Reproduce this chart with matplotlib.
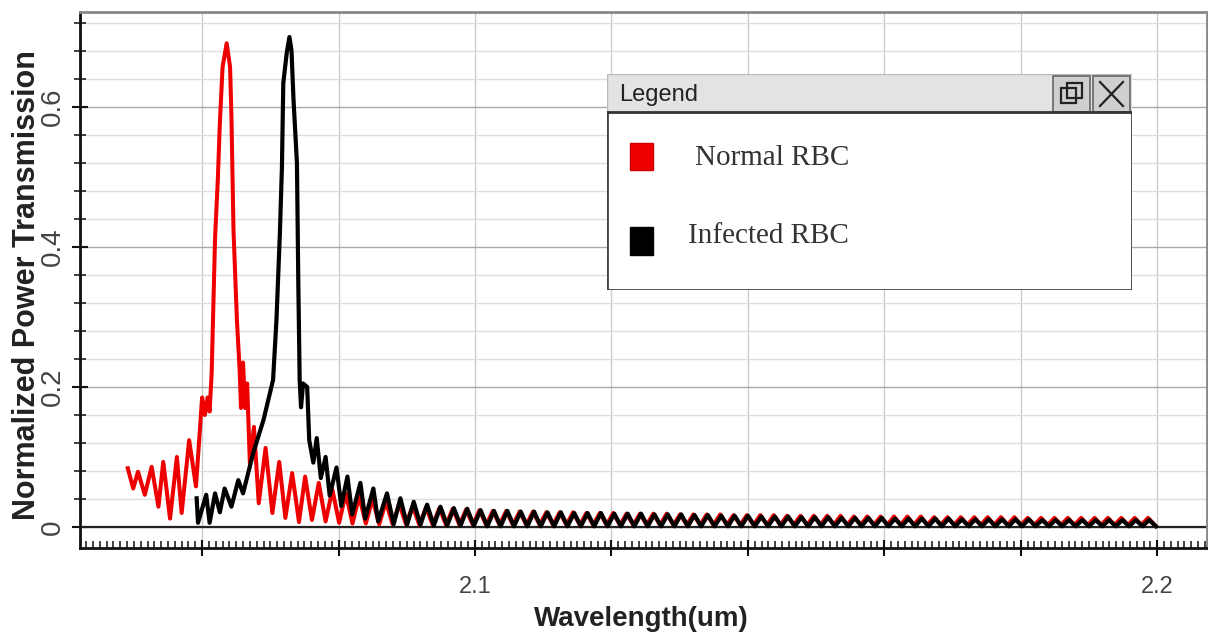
import numpy as np
import matplotlib
matplotlib.use('Agg')
import matplotlib.pyplot as plt
from matplotlib.ticker import MultipleLocator, FuncFormatter
from matplotlib.patches import Rectangle

plt.rcParams['font.family'] = ['Liberation Sans', 'DejaVu Sans']

# Normal RBC: resonance region (wavelength um, transmission)
red_x = [2.0491, 2.0499, 2.0506, 2.0516, 2.0526, 2.0536, 2.0543, 2.0553, 2.0563, 2.0570,
         2.0581, 2.0591, 2.0600, 2.0604, 2.0608, 2.0611, 2.0614, 2.0616, 2.0619, 2.0623,
         2.0626, 2.0630, 2.0636, 2.0641, 2.0643, 2.0646, 2.0651, 2.0655, 2.0657, 2.0660,
         2.0663, 2.0666, 2.0670, 2.0676, 2.0683, 2.0693, 2.0703, 2.0713, 2.0722, 2.0732,
         2.0742, 2.0751, 2.0761, 2.0771, 2.0781]
red_y = [0.084, 0.055, 0.079, 0.046, 0.086, 0.029, 0.093, 0.012, 0.100, 0.020,
         0.124, 0.058, 0.185, 0.160, 0.185, 0.165, 0.220, 0.296, 0.414, 0.496,
         0.577, 0.657, 0.691, 0.657, 0.586, 0.424, 0.296, 0.224, 0.170, 0.235,
         0.170, 0.205, 0.091, 0.143, 0.034, 0.113, 0.020, 0.093, 0.013, 0.077,
         0.007, 0.072, 0.010, 0.063, 0.008]

# Normal RBC: fringe tail, alternating peak / trough samples
red_tail_start = 2.0791
red_tail_pk = [0.053, 0.048, 0.044, 0.040, 0.036, 0.033, 0.030, 0.028, 0.027, 0.026,
               0.025, 0.024, 0.023, 0.023, 0.022, 0.022, 0.021, 0.021, 0.021, 0.020,
               0.020, 0.020, 0.019, 0.019, 0.019, 0.019, 0.018, 0.018, 0.018, 0.018,
               0.017, 0.017, 0.017, 0.017, 0.016, 0.016, 0.016, 0.016, 0.016, 0.015,
               0.015, 0.015, 0.015, 0.015, 0.015, 0.014, 0.014, 0.014, 0.014, 0.014,
               0.014, 0.014, 0.013, 0.013, 0.013, 0.013, 0.013, 0.013, 0.013, 0.013,
               0.013, 0.013]
red_tail_tr = [0.006, 0.005, 0.005, 0.004, 0.004, 0.004, 0.003, 0.003, 0.003, 0.003,
               0.003, 0.003, 0.003, 0.003, 0.003, 0.003, 0.003, 0.003, 0.003, 0.003,
               0.003, 0.003, 0.003, 0.003, 0.003, 0.003, 0.003, 0.003, 0.003, 0.003,
               0.003, 0.003, 0.003, 0.003, 0.003, 0.003, 0.003, 0.003, 0.003, 0.003,
               0.003, 0.003, 0.003, 0.003, 0.003, 0.003, 0.003, 0.003, 0.003, 0.003,
               0.003, 0.003, 0.003, 0.003, 0.003, 0.003, 0.003, 0.003, 0.003, 0.003,
               0.003, 0.003]

# Infected RBC: resonance region
black_x = [2.0592, 2.0594, 2.0606, 2.0611, 2.0619, 2.0626, 2.0633, 2.0643, 2.0653, 2.0660,
           2.0668, 2.0675, 2.0690, 2.0704, 2.0709, 2.0714, 2.0717, 2.0719, 2.0724, 2.0728,
           2.0731, 2.0734, 2.0739, 2.0741, 2.0743, 2.0745, 2.0748, 2.0754, 2.0757, 2.0763,
           2.0768, 2.0774, 2.0781, 2.0787, 2.0797, 2.0804, 2.0813, 2.0820, 2.0832, 2.0839,
           2.0851, 2.0858]
black_y = [0.041, 0.006, 0.046, 0.006, 0.048, 0.021, 0.055, 0.029, 0.067, 0.048,
           0.079, 0.106, 0.153, 0.210, 0.296, 0.420, 0.514, 0.634, 0.677, 0.700,
           0.681, 0.610, 0.520, 0.349, 0.210, 0.171, 0.205, 0.200, 0.124, 0.092,
           0.127, 0.070, 0.100, 0.045, 0.085, 0.030, 0.072, 0.018, 0.063, 0.012,
           0.055, 0.008]

# Infected RBC: fringe tail
black_tail_start = 2.0871
black_tail_pk = [0.048, 0.041, 0.036, 0.032, 0.029, 0.027, 0.026, 0.024, 0.023, 0.023,
                 0.022, 0.022, 0.021, 0.021, 0.020, 0.020, 0.020, 0.019, 0.019, 0.019,
                 0.018, 0.018, 0.018, 0.017, 0.017, 0.016, 0.016, 0.016, 0.015, 0.015,
                 0.015, 0.014, 0.014, 0.014, 0.013, 0.013, 0.013, 0.013, 0.012, 0.012,
                 0.012, 0.012, 0.012, 0.011, 0.011, 0.011, 0.011, 0.011, 0.011, 0.010,
                 0.010, 0.010, 0.010, 0.010, 0.010, 0.010, 0.010, 0.010]
black_tail_tr = [0.004, 0.003, 0.003, 0.002, 0.002, 0.002, 0.002, 0.001, 0.001, 0.001,
                 0.001, 0.001, 0.001, 0.001, 0.001, 0.001, 0.001, 0.001, 0.001, 0.001,
                 0.001, 0.001, 0.001, 0.001, 0.001, 0.001, 0.001, 0.001, 0.001, 0.001,
                 0.001, 0.001, 0.001, 0.001, 0.001, 0.001, 0.001, 0.001, 0.001, 0.001,
                 0.001, 0.001, 0.001, 0.001, 0.001, 0.001, 0.001, 0.001, 0.001, 0.001,
                 0.001, 0.001, 0.001, 0.001, 0.001, 0.001, 0.001, 0.001]

sample_step = 0.00098  # wavelength sampling of the tail


def build(x_head, y_head, start, pk, tr):
    tail_y = [v for p, t in zip(pk, tr) for v in (p, t)]
    tail_x = start + sample_step * np.arange(len(tail_y))
    return np.concatenate([x_head, tail_x]), np.concatenate([y_head, tail_y])


rx, ry = build(red_x, red_y, red_tail_start, red_tail_pk, red_tail_tr)
bx, by = build(black_x, black_y, black_tail_start, black_tail_pk, black_tail_tr)

W, H = 1208, 636
fig = plt.figure(figsize=(W / 100, H / 100), dpi=100)
ax = fig.add_axes([80 / W, 1 - 548 / H, (1207 - 80) / W, (548 - 12) / H])

ax.plot(rx, ry, color='#ee0000', lw=2.9, zorder=3)
ax.plot(bx, by, color='black', lw=3.0, zorder=4)
ax.axhline(0, color='#222222', lw=1.6, zorder=2)

ax.set_xlim(2.0421, 2.2073)
ax.set_ylim(-0.03, 0.7357)

ax.xaxis.set_major_locator(MultipleLocator(0.02))
ax.xaxis.set_minor_locator(MultipleLocator(0.001))
ax.yaxis.set_major_locator(MultipleLocator(0.2))
ax.yaxis.set_minor_locator(MultipleLocator(0.04))
ax.xaxis.set_major_formatter(FuncFormatter(
    lambda v, p: f'{v:.1f}' if abs(v * 10 - round(v * 10)) < 1e-6 else ''))
ax.yaxis.set_major_formatter(FuncFormatter(
    lambda v, p: '0' if abs(v) < 1e-9 else f'{v:.1f}'))

ax.set_axisbelow(True)
ax.grid(axis='x', which='major', color='#cccccc', lw=1)
ax.grid(axis='y', which='minor', color='#dddddd', lw=1)
ax.grid(axis='y', which='major', color='#aaaaaa', lw=1)

for s in ['left', 'bottom']:
    ax.spines[s].set_linewidth(2)
    ax.spines[s].set_color('#111111')
for s in ['top', 'right']:
    ax.spines[s].set_linewidth(2)
    ax.spines[s].set_color('#888888')
    ax.spines[s].set_linestyle((0, (1, 1)))

ax.tick_params(axis='x', which='major', direction='inout', length=12, width=1.5,
               labelsize=17, pad=14, colors='#111111')
ax.tick_params(axis='x', which='minor', direction='in', length=5, width=1.2, color='#222222')
ax.tick_params(axis='y', which='major', direction='inout', length=12, width=1.5,
               labelsize=20, pad=4, colors='#111111')
ax.tick_params(axis='y', which='minor', direction='inout', length=8, width=1.2, color='#222222')
for lab in ax.get_yticklabels():
    lab.set_rotation(90)
    lab.set_va('center')
    lab.set_color('#444444')
for lab in ax.get_xticklabels():
    lab.set_color('#444444')

fig.text(641 / W, 1 - 619 / H, 'Wavelength(um)', ha='center', va='center',
         fontsize=20, fontweight='bold', color='#222222')
fig.text(27 / W, 1 - 285 / H, 'Normalized Power Transmission', ha='center', va='center',
         rotation=90, fontsize=22, fontweight='bold', color='#222222')

# window-style legend box
lg = fig.add_axes([607 / W, 1 - 290 / H, 525 / W, 216 / H], zorder=10)
lg.set_xlim(0, 525)
lg.set_ylim(216, 0)
lg.axis('off')
lg.add_patch(Rectangle((0, 0), 525, 216, fc='white', ec='#444444', lw=2))
lg.add_patch(Rectangle((0, 0), 525, 38, fc='#e3e3e3', ec='#bbbbbb', lw=1))
lg.plot([0, 525], [38, 38], color='#333333', lw=2)
lg.add_patch(Rectangle((446, 2), 37, 36, fc='#cfcfcf', ec='#666666', lw=1.2))
lg.add_patch(Rectangle((486, 2), 37, 36, fc='#cfcfcf', ec='#666666', lw=1.2))
lg.add_patch(Rectangle((454, 14), 15, 15, fc='none', ec='#222222', lw=1.6))
lg.add_patch(Rectangle((460, 9), 15, 15, fc='none', ec='#222222', lw=1.6))
lg.plot([493, 516], [8, 32], color='#222222', lw=1.6)
lg.plot([493, 516], [32, 8], color='#222222', lw=1.6)
lg.text(12, 21, 'Legend', va='center', ha='left', fontsize=17, color='#222222')
lg.add_patch(Rectangle((23, 69), 23, 27, fc='#ee0000', ec='#cc0000', lw=1))
lg.text(88, 84, 'Normal RBC', va='center', ha='left', fontsize=21,
        family='Liberation Serif', color='#333333')
lg.add_patch(Rectangle((23, 153), 23, 28, fc='black', ec='black', lw=1))
lg.text(81, 162, 'Infected RBC', va='center', ha='left', fontsize=21,
        family='Liberation Serif', color='#333333')

fig.savefig('out.png', dpi=100)
